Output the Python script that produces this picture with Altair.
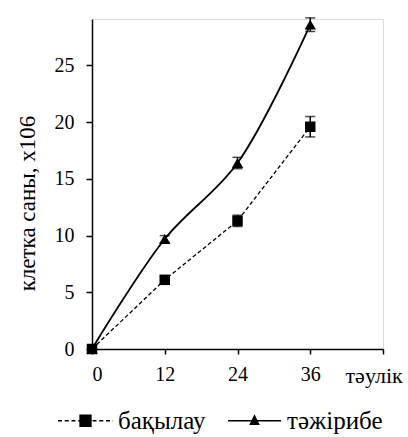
import altair as alt
import pandas as pd

hours = [0, 12, 24, 36]
control = [0.0, 6.1, 11.3, 19.6]
control_err = [0.0, 0.3, 0.5, 0.9]
experiment = [0.0, 9.7, 16.4, 28.6]
experiment_err = [0.0, 0.3, 0.5, 0.6]
series_names = ["бақылау", "тәжірибе"]
x_ticks = [0, 12, 24, 36, 48]
y_ticks = [0, 5, 10, 15, 20, 25]

rows = []
for name, vals, errs in [(series_names[0], control, control_err), (series_names[1], experiment, experiment_err)]:
    for h, v, e in zip(hours, vals, errs):
        rows.append({"series": name, "x": h, "y": v, "lo": v - e, "hi": v + e})
df = pd.DataFrame(rows)

FONT = "Liberation Serif"

xs = alt.Scale(domain=[0, 48], nice=False)
ys = alt.Scale(domain=[0, 29.1], nice=False)

x_enc = alt.X("x:Q", scale=xs, axis=alt.Axis(
    values=x_ticks, labelExpr="datum.value == 48 ? '' : datum.label",
    title="тәулік", titleX=253, titleY=33, titleAlign="left", titleBaseline="alphabetic",
    titleFont=FONT, titleFontSize=22, titleFontWeight="normal", titleColor="#000000",
    labelFont=FONT, labelFontSize=20, labelColor="#000000", labelPadding=10,
    tickSize=5, tickColor="black", domainColor="black", grid=False,
    domainWidth=1.5, tickWidth=1.5))
y_enc = alt.Y("y:Q", scale=ys, axis=alt.Axis(
    values=y_ticks, title="клетка саны, х106",
    titleFont=FONT, titleFontSize=23, titleFontWeight="normal", titleColor="#000000",
    titleX=-58, titleY=184, titleAngle=270, titleBaseline="alphabetic", titleAlign="center",
    labelFont=FONT, labelFontSize=20, labelColor="#000000", labelPadding=12,
    tickSize=6, tickColor="black", domainColor="black", grid=False,
    domainWidth=1.5, tickWidth=1.5))

base = alt.Chart(df)

line_ctrl = base.transform_filter(alt.datum.series == series_names[0]).mark_line(
    color="black", strokeWidth=1.3, strokeDash=[4, 2.5]).encode(x=x_enc, y=y_enc)
line_exp = base.transform_filter(alt.datum.series == series_names[1]).mark_line(
    color="black", strokeWidth=1.8, interpolate="catmull-rom").encode(x=x_enc, y=y_enc)

has_err = alt.datum.hi > alt.datum.lo
err = base.transform_filter(has_err).mark_rule(color="black", strokeWidth=1.5).encode(
    x="x:Q", y="lo:Q", y2="hi:Q")
cap_lo = base.transform_filter(has_err).mark_tick(
    color="black", orient="horizontal", size=10, thickness=1.5).encode(x="x:Q", y="lo:Q")
cap_hi = base.transform_filter(has_err).mark_tick(
    color="black", orient="horizontal", size=10, thickness=1.5).encode(x="x:Q", y="hi:Q")

pts_ctrl = base.transform_filter(alt.datum.series == series_names[0]).mark_point(
    filled=True, color="black", opacity=1, size=110, shape="square").encode(x="x:Q", y="y:Q")
pts_exp = base.transform_filter(alt.datum.series == series_names[1]).mark_point(
    filled=True, color="black", opacity=1, size=130, shape="triangle-up").encode(x="x:Q", y="y:Q")

# legend symbol paths (unit = 5px)
def dashed(x0, x1, dash=0.8, gap=0.55):
    parts = []
    x = x0
    while x < x1:
        e = min(x + dash, x1)
        parts.append(f"M{x:.2f},0H{e:.2f}")
        x = e + gap
    return "".join(parts)

sq = 1.1
ctrl_path = dashed(-5.5, -sq) + f"M{-sq},{-sq}H{sq}V{sq}H{-sq}Z" + dashed(sq + 0.3, 5.5)
exp_path = "M-5.3,0H5.3M0,-1.0L0.85,0.7L-0.85,0.7Z"

legend_layer = base.transform_filter(alt.datum.x == 0).mark_point(
    opacity=0, filled=True, strokeWidth=1.3).encode(
    x="x:Q", y="y:Q",
    fill=alt.value("black"), stroke=alt.value("black"),
    shape=alt.Shape("series:N", scale=alt.Scale(domain=series_names, range=[ctrl_path, exp_path]),
                    legend=alt.Legend(title=None, orient="none", legendX=-19, legendY=389,
                                      direction="horizontal", symbolSize=100, symbolOpacity=1,
                                      symbolStrokeWidth=1.3,
                                      labelOffset=20, columnPadding=19,
                                      padding=0, offset=0,
                                      labelFont=FONT, labelFontSize=25, labelColor="#000000",
                                      labelLimit=200)))

chart = alt.layer(line_ctrl, line_exp, err, cap_lo, cap_hi, pts_ctrl, pts_exp, legend_layer).properties(
    width=291, height=330,
    autosize=alt.AutoSizeParams(type="none"),
    padding={"left": 92, "top": 19, "right": 25, "bottom": 88},
).configure_view(stroke=None).configure(background="white")

chart.save("out.html", embed_options={"renderer": "svg", "actions": False})
